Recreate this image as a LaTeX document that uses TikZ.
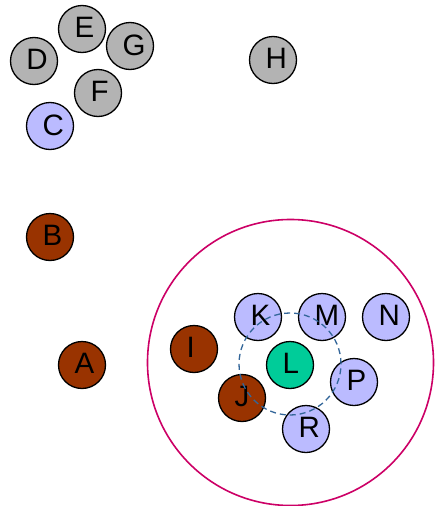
\documentclass[tikz,border=0pt]{standalone}
\usepackage{fontspec}
\setmainfont{Liberation Sans}
\definecolor{cgray}{HTML}{B3B3B3}
\definecolor{clav}{HTML}{BBBBFF}
\definecolor{cbrown}{HTML}{993300}
\definecolor{cgreen}{HTML}{00CC99}
\definecolor{cmag}{HTML}{CC0066}
\definecolor{cdash}{HTML}{336699}
\newcommand\balltext[1]{\makebox[0pt][l]{\hspace*{-7.5pt}\raisebox{2.5pt}{#1}}}
\begin{document}
\begin{tikzpicture}[x=1pt,y=-1pt,
  ball/.style={circle,draw=black,line width=1.3pt,minimum size=47pt,inner sep=0pt,
    font=\fontsize{29.5}{32}\selectfont},
  grayball/.style={ball,fill=cgray},
  lavball/.style={ball,fill=clav},
  brownball/.style={ball,fill=cbrown},
  greenball/.style={ball,fill=cgreen},
  outer/.style={circle,draw=cmag,line width=1.6pt,minimum size=286pt,inner sep=0pt},
  inner/.style={circle,draw=cdash,line width=1.3pt,dashed,dash pattern=on 6pt off 4pt,minimum size=102pt,inner sep=0pt}]
\useasboundingbox (0,0) rectangle (434,506);
\node[outer] (big) at (290.5,362.5) {};
\node[grayball] (G) at (130,46) {\balltext{G}};
\node[grayball] (E) at (82,29) {\balltext{E}};
\node[grayball] (D) at (34,61) {\balltext{D}};
\node[grayball] (F) at (98,93) {\balltext{F}};
\node[lavball] (C) at (50,126) {\balltext{C}};
\node[grayball] (H) at (273,60) {\balltext{H}};
\node[brownball] (B) at (50,237) {\balltext{B}};
\node[brownball] (A) at (82,365) {\balltext{A}};
\node[brownball] (I) at (194,349) {\balltext{I}};
\node[lavball] (K) at (258,317) {\balltext{K}};
\node[lavball] (M) at (322,317) {\balltext{M}};
\node[lavball] (N) at (386,317) {\balltext{N}};
\node[greenball] (L) at (290,365) {\balltext{L}};
\node[lavball] (P) at (354,382) {\balltext{P}};
\node[brownball] (J) at (242,398) {\balltext{J}};
\node[lavball] (R) at (306,429) {\balltext{R}};
\node[inner] (ring) at (290,364) {};
\end{tikzpicture}
\end{document}
